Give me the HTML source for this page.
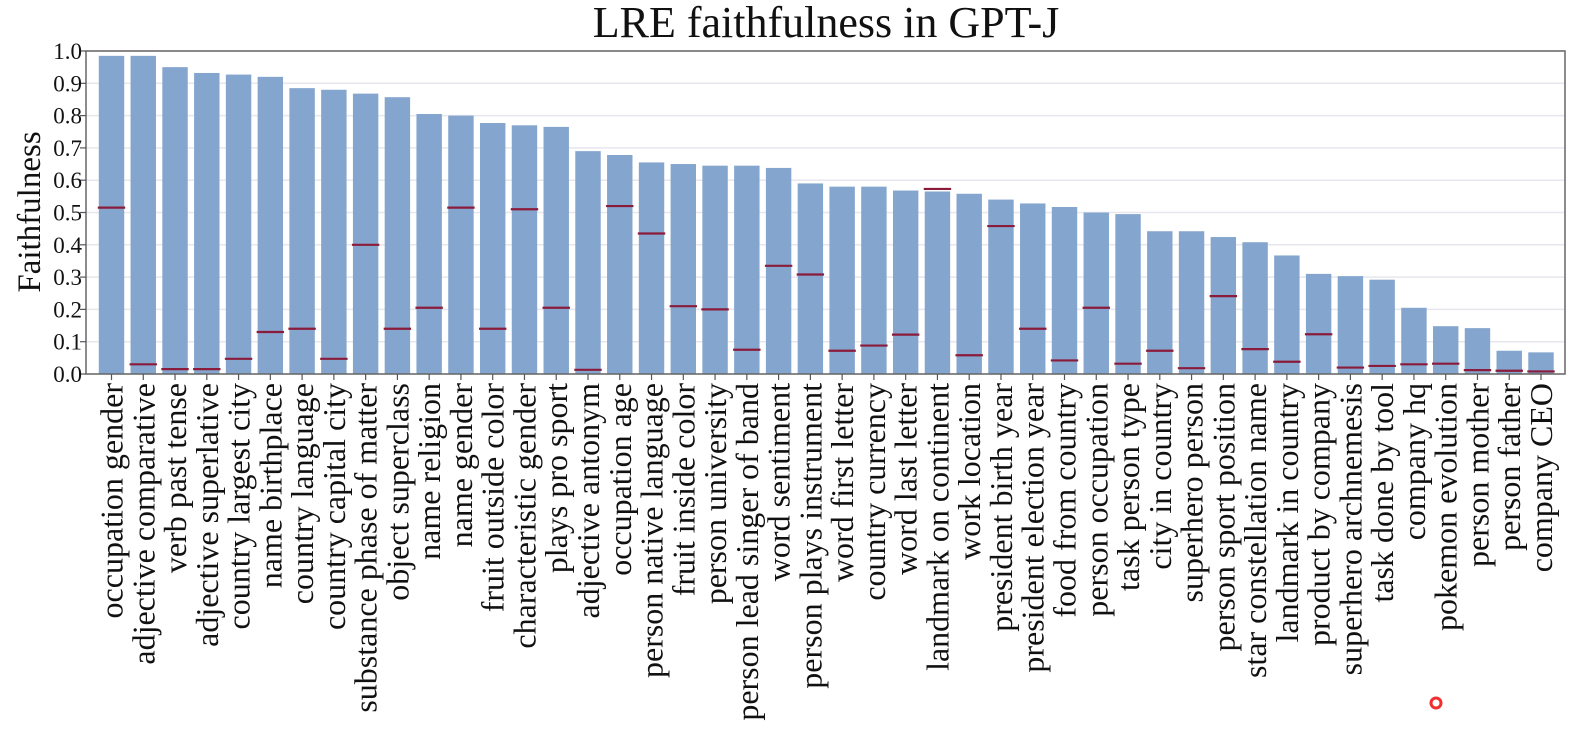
<!DOCTYPE html>
<html><head><meta charset="utf-8"><style>
html,body{margin:0;padding:0;background:#fff;}
svg{display:block;font-family:"Liberation Serif",serif;}
</style></head><body>
<svg id="chart" width="1596" height="748" viewBox="0 0 1596 748" xmlns="http://www.w3.org/2000/svg">
<text x="826" y="37" font-size="44" text-anchor="middle" fill="#111">LRE faithfulness in GPT-J</text>
<text transform="translate(40,212) rotate(-90)" font-size="33" text-anchor="middle" fill="#111">Faithfulness</text>
<g id="grid"></g>
<g id="bars"></g>
<g id="marks"></g>
<rect x="86" y="51" width="1479" height="323" fill="none" stroke="#666" stroke-width="1.5"/>
<g id="yaxis"></g>
<g id="xaxis"></g>
<circle cx="1436" cy="703" r="5" fill="none" stroke="#f03030" stroke-width="3"/>
</svg>
<script>
const categories = ["occupation gender","adjective comparative","verb past tense","adjective superlative","country largest city","name birthplace","country language","country capital city","substance phase of matter","object superclass","name religion","name gender","fruit outside color","characteristic gender","plays pro sport","adjective antonym","occupation age","person native language","fruit inside color","person university","person lead singer of band","word sentiment","person plays instrument","word first letter","country currency","word last letter","landmark on continent","work location","president birth year","president election year","food from country","person occupation","task person type","city in country","superhero person","person sport position","star constellation name","landmark in country","product by company","superhero archnemesis","task done by tool","company hq","pokemon evolution","person mother","person father","company CEO"];
const faithfulness = [0.985,0.985,0.95,0.932,0.927,0.92,0.885,0.88,0.868,0.857,0.805,0.80,0.777,0.77,0.765,0.69,0.678,0.655,0.65,0.645,0.645,0.638,0.59,0.58,0.58,0.568,0.565,0.558,0.54,0.528,0.517,0.50,0.495,0.442,0.442,0.424,0.408,0.367,0.31,0.303,0.292,0.205,0.148,0.142,0.072,0.067];
const baseline = [0.515,0.03,0.015,0.015,0.047,0.13,0.14,0.047,0.40,0.14,0.205,0.515,0.14,0.51,0.205,0.013,0.52,0.435,0.21,0.20,0.075,0.335,0.308,0.072,0.088,0.122,0.573,0.058,0.458,0.14,0.042,0.205,0.032,0.072,0.018,0.241,0.077,0.038,0.123,0.02,0.025,0.03,0.032,0.012,0.01,0.008];
const yTicks = ["0.0","0.1","0.2","0.3","0.4","0.5","0.6","0.7","0.8","0.9","1.0"];

const NS="http://www.w3.org/2000/svg";
const L=86,R=1565,T=51,B=374;
const firstC=111.5, pitch=(1541-111.5)/(categories.length-1);
function xC(i){return firstC+pitch*i;}
function y(v){return B-(B-T)*v;}
function mk(tag,attrs,parent){const e=document.createElementNS(NS,tag);for(const k in attrs)e.setAttribute(k,attrs[k]);parent.appendChild(e);return e;}
const grid=document.getElementById('grid'),bars=document.getElementById('bars'),marks=document.getElementById('marks'),ya=document.getElementById('yaxis'),xa=document.getElementById('xaxis');
yTicks.forEach(t=>{
  const v=parseFloat(t),yy=y(v);
  const g=mk('line',{x1:L,x2:R,y1:yy,y2:yy,stroke:'#e8e6ee','stroke-width':1.5},grid);
  
  
  const tk=mk('line',{x1:L-6,x2:L,y1:yy,y2:yy,stroke:'#555','stroke-width':1.2},ya);
  
  
  const tx=mk('text',{x:L-4,y:yy+8,'font-size':23,'text-anchor':'end',fill:'#111'},ya);
  tx.textContent=t;
  
  
});
const bw=pitch*0.8;
categories.forEach((c,i)=>{
  const cx=xC(i);
  const r=mk('rect',{x:cx-bw/2,y:y(faithfulness[i]),width:bw,height:B-y(faithfulness[i]),fill:'#84a5cd'},bars);
  
  
  const m=mk('line',{x1:cx-bw/2-1,x2:cx+bw/2+1,y1:y(baseline[i]),y2:y(baseline[i]),stroke:'#8a1b3b','stroke-width':2.2},marks);
  
  
  const tk=mk('line',{x1:cx,x2:cx,y1:B,y2:B+6,stroke:'#555','stroke-width':1.2},xa);
  
  
  const tx=mk('text',{transform:`translate(${cx+11},${B+9}) rotate(-90)`,'font-size':32,'text-anchor':'end',fill:'#111'},xa);
  tx.textContent=c;
  
  
});
</script>
</body></html>
